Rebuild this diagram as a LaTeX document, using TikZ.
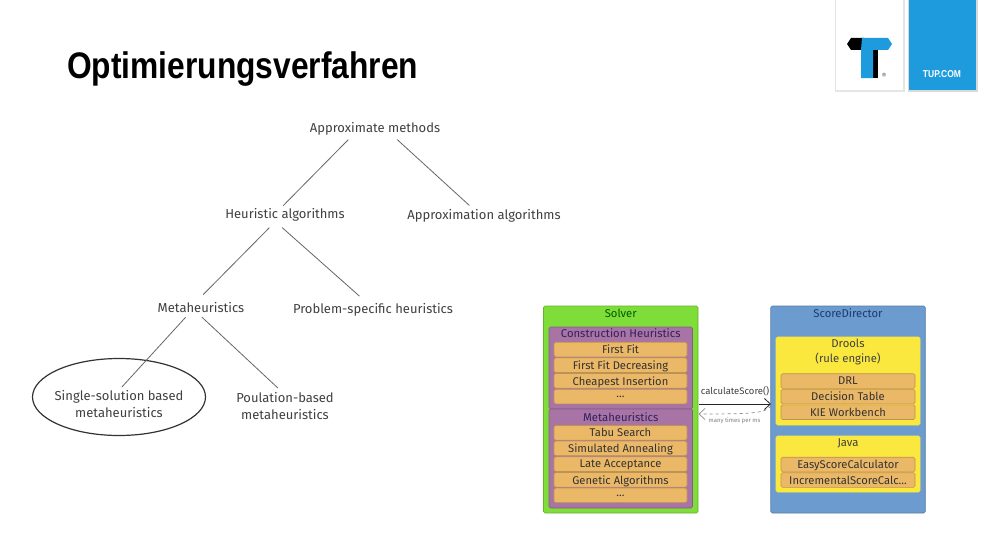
\documentclass[tikz,border=0pt]{standalone}
\usepackage{fontspec}
\usepackage{xcolor}
\setmainfont{Fira Sans}
\newfontfamily\titlefont{Liberation Sans}
\usetikzlibrary{positioning, shapes.geometric, arrows.meta}
\definecolor{tupblue}{HTML}{1D9BDC}
\definecolor{solvergreen}{HTML}{7FDD3A}
\definecolor{directorblue}{HTML}{6C9BCF}
\definecolor{heurpurple}{HTML}{A874A6}
\definecolor{itemorange}{HTML}{EBB867}
\definecolor{engineyellow}{HTML}{FBE83F}
\definecolor{heurtext}{HTML}{33205A}
\definecolor{directortext}{HTML}{1C3A6E}
\tikzset{
	treenode/.style={minimum height=18pt,inner sep=0pt,align=center,font=\fontsize{13}{17}\selectfont,text=black!75},
	treeline/.style={draw=black!60,line width=0.8pt},
	panel/.style={draw=#1!80!black,fill=#1,rounded corners=1.5pt,line width=0.6pt},
	itembox/.style={panel=itemorange,minimum width=133pt,minimum height=14.6pt,inner sep=0pt,font=\fontsize{11.2}{12}\selectfont,text=black!80,text depth=0.2pt},
	caption/.style={inner sep=0pt,align=center,font=\fontsize{11.3}{14.5}\selectfont}
}
\begin{document}
\begin{tikzpicture}[x=1pt,y=-1pt]
	\useasboundingbox[fill=white] (0,0) rectangle (1000,543);
	\node[inner sep=0pt,anchor=west,font=\titlefont\bfseries\fontsize{37}{40}\selectfont,xscale=0.858] (title) at (67,69) {Optimierungsverfahren};

	% logo
	\fill[black!10] (834.5,0) rectangle (904.5,92);
	\fill[white] (836,0) rectangle (903,90);
	\fill[black!15] (907.5,0) rectangle (977.5,92);
	\node[fill=tupblue,minimum width=67pt,minimum height=90pt,inner sep=0pt] (tupbox) at (942.5,45) {};
	\node[inner sep=0pt,text=white,xscale=0.85,font=\titlefont\bfseries\fontsize{10}{12}\selectfont] (tuplabel) at (942,74.5) {TUP.COM};
	\fill[black] (847,44) -- (851,38) -- (864,38) -- (864,50) -- (851,50) -- cycle;
	\fill[black] (866,50) rectangle (878,78);
	\fill[tupblue] (862,38) -- (888,38) -- (892,44) -- (888,50) -- (873,50) -- (873,78) -- (861,78) -- (861,50) -- cycle;
	\node[inner sep=0pt,text=black!70,font=\fontsize{7}{8}\selectfont] (regmark) at (884,76) {®};

	% tree
	\node[draw=black!80,line width=1.2pt,ellipse,minimum width=173pt,minimum height=77pt,inner sep=0pt] (ring) at (119,397) {};
	\node[treenode] (approx) at (375,129) {Approximate methods};
	\node[treenode] (heur) at (285,215) {Heuristic algorithms};
	\node[treenode] (approxalg) at (484,216) {Approximation algorithms};
	\node[treenode] (meta) at (201,308) {Metaheuristics};
	\node[treenode] (problem) at (373,310) {Problem-specific heuristics};
	\node[treenode] (single) at (119,404) {Single-solution based\\metaheuristics};
	\node[treenode] (popul) at (285,406) {Poulation-based\\metaheuristics};
	\path[treeline]
		(approx.200) edge[shorten <=2pt] (heur.102)
		(approx.336) edge[shorten <=2pt,shorten >=2pt] (approxalg.145)
		(heur.217) edge[shorten <=5pt,shorten >=6pt] (meta.102)
		(heur.234) edge[shorten <=5pt,shorten >=7pt] (problem.132)
		(meta.211) edge[shorten >=4pt] (single.north)
		(meta.276) edge[shorten >=6pt] (popul.101);

	% solver
	\node[panel=solvergreen,minimum width=154.5pt,minimum height=207pt,inner sep=0pt] (solver) at (620.75,409.5) {};
	\node[caption,text=green!35!black] (solvertitle) at (620.75,313) {Solver};
	\node[panel=heurpurple,minimum width=143.5pt,minimum height=82pt,inner sep=0pt] (construct) at (620.75,368) {};
	\node[panel=heurpurple,minimum width=143.5pt,minimum height=99pt,inner sep=0pt] (metabox) at (620.75,458.5) {};
	\node[caption,text=heurtext] (constructtitle) at (620.75,333.5) {Construction Heuristics};
	\node[caption,text=heurtext] (metatitle) at (620.75,417) {Metaheuristics};
	\node[itembox] (firstfit) at (620.5,349.5) {First Fit};
	\node[itembox] (decreasing) at (620.5,365.2) {First Fit Decreasing};
	\node[itembox] (cheapest) at (620.5,380.8) {Cheapest Insertion};
	\node[itembox] (moreconstruct) at (620.5,396.6) {...};
	\node[itembox] (tabu) at (620.5,432.8) {Tabu Search};
	\node[itembox] (annealing) at (620.5,448.4) {Simulated Annealing};
	\node[itembox] (late) at (620.5,464.2) {Late Acceptance};
	\node[itembox] (genetic) at (620.5,479.8) {Genetic Algorithms};
	\node[itembox] (moremeta) at (620.5,495.4) {...};

	% score director
	\node[panel=directorblue,minimum width=154.5pt,minimum height=207pt,inner sep=0pt] (director) at (848,409.5) {};
	\node[caption,text=directortext] (directortitle) at (848,313) {ScoreDirector};
	\node[panel=engineyellow,draw=engineyellow,minimum width=144pt,minimum height=88pt,inner sep=0pt] (drools) at (848,381) {};
	\node[panel=engineyellow,draw=engineyellow,minimum width=144pt,minimum height=56pt,inner sep=0pt] (java) at (848,464) {};
	\node[caption,text=black!75] (droolstitle) at (848,352) {Drools\\(rule engine)};
	\node[caption,text=black!75] (javatitle) at (848,443.5) {Java};
	\node[itembox,minimum width=134pt] (drl) at (848,381) {DRL};
	\node[itembox,minimum width=134pt] (decision) at (848,396.6) {Decision Table};
	\node[itembox,minimum width=134pt] (kie) at (848,412.2) {KIE Workbench};
	\node[itembox,minimum width=134pt] (easy) at (848,464.5) {EasyScoreCalculator};
	\node[itembox,minimum width=134pt] (incremental) at (848,480) {IncrementalScoreCalc...};

	% calls between them
	\coordinate (callstart) at (698.5,404);
	\coordinate (callend) at (771,404);
	\coordinate (backstart) at (771,406);
	\coordinate (backend) at (698.5,414);
	\draw[black!85,line width=0.8pt,-{Straight Barb[length=6pt,width=11pt]}] (callstart) -- (callend);
	\draw[black!45,line width=0.7pt,dashed,-{Straight Barb[length=6pt,width=11pt]}] (backstart) .. controls (765,413) and (755,414) .. (backend);
	\node[inner sep=0pt,text=black!75,font=\fontsize{9.5}{11}\selectfont] (calllabel) at (735,391) {calculateScore()};
	\node[inner sep=0pt,text=black!50,font=\fontsize{6}{7}\selectfont] (backlabel) at (734.5,421) {many times per ms};
\end{tikzpicture}
\end{document}
